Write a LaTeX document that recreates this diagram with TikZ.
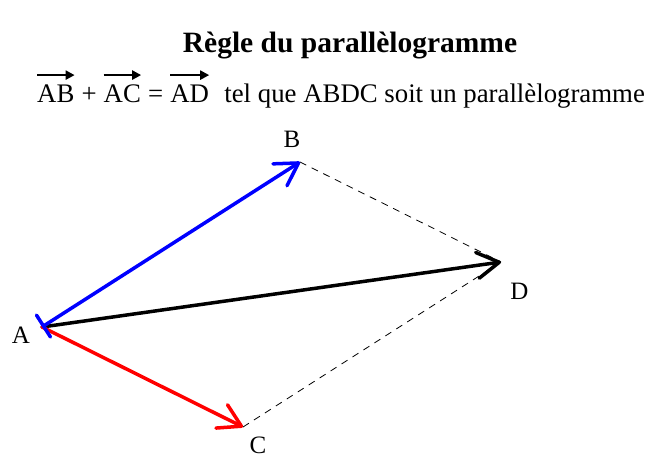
\documentclass[tikz,border=0pt]{standalone}
\usepackage{fontspec}
\setmainfont{Liberation Serif}
\usetikzlibrary{calc,arrows.meta,positioning}
\definecolor{vecteurbleu}{RGB}{0,0,255}
\definecolor{vecteurrouge}{RGB}{255,0,0}

\begin{document}
\begin{tikzpicture}[x=1pt, y=-1pt,
    every node/.style={inner sep=0pt, font=\fontsize{25}{30}\selectfont},
    relation/.style={font=\fontsize{26.8}{32}\selectfont},
    >={Straight Barb[length=22pt,width=26pt,round]},
    vecteur/.style={line width=3.5pt, line cap=round, ->},
    fleche/.style={line width=2.5pt, -{Triangle[length=9pt,width=9pt]}},
    pointille/.style={line width=0.8pt, dash pattern=on 7pt off 6pt}]
  \useasboundingbox (0,0) rectangle (660,457);
  % titre et relation vectorielle
  \node[font=\fontsize{29.5}{35}\selectfont\bfseries, anchor=base] (titre) at (350,53) {Règle du parallèlogramme};
  \node[relation, anchor=base west] (ab) at (37,103) {AB};
  \node[relation, base right=6.7pt of ab] (plus) {+};
  \node[relation, base right=6.7pt of plus] (ac) {AC};
  \node[relation, base right=6.7pt of ac] (egal) {=};
  \node[relation, base right=6.7pt of egal] (ad) {AD};
  \node[relation, base right=15pt of ad] (phrase) {tel que ABDC soit un parallèlogramme};
  \draw[fleche] ([yshift=10pt]ab.north west) -- ([yshift=10pt]ab.north east);
  \draw[fleche] ([yshift=10pt]ac.north west) -- ([yshift=10pt]ac.north east);
  \draw[fleche] ([yshift=10pt]ad.north west) -- ([yshift=10pt]ad.north east);
  % sommets du parallelogramme
  \coordinate (A) at (42,327);
  \coordinate (B) at (300,162);
  \coordinate (C) at (243,427);
  \coordinate (D) at ($(B)+(C)-(A)$);
  \draw[pointille] (B) -- (D);
  \draw[pointille] (C) -- (D);
  \draw[vecteur] (A) -- (D);
  \draw[vecteur, vecteurrouge] (A) -- (C);
  \draw[vecteur, vecteurbleu, {Bar[width=26pt,round]}->] (A) -- (B);
  \node[anchor=base] (nomA) at (21,343) {A};
  \node[anchor=base] (nomB) at (292,148) {B};
  \node[anchor=base] (nomC) at (258,453) {C};
  \node[anchor=base] (nomD) at (519.5,299) {D};
\end{tikzpicture}
\end{document}
